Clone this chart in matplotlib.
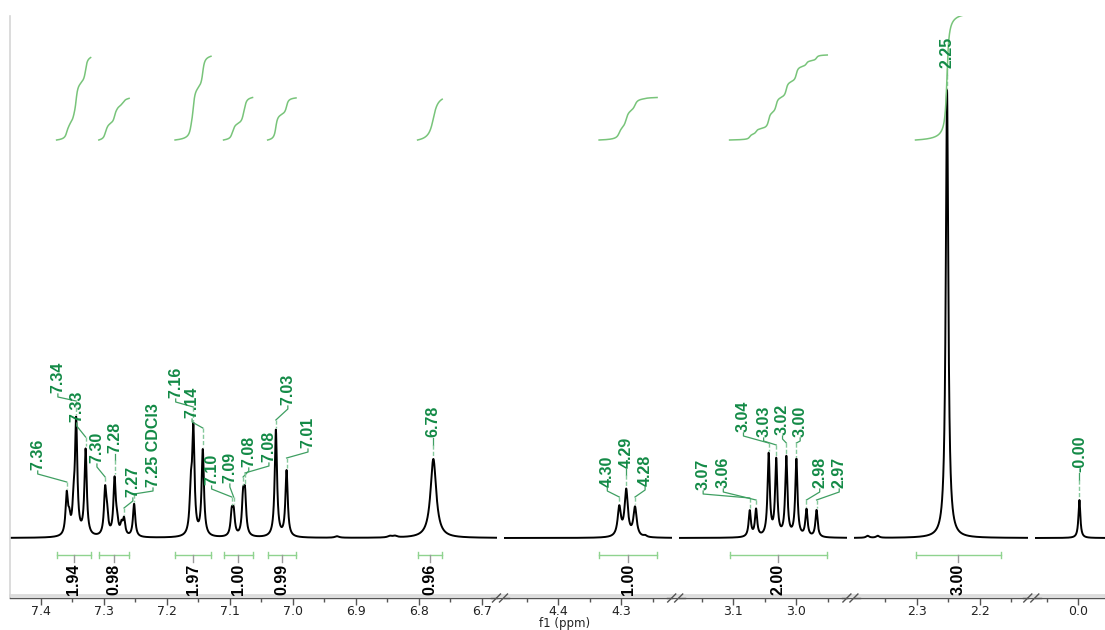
import numpy as np
import matplotlib.pyplot as plt
from matplotlib.lines import Line2D

# ---------------- spectrum data ----------------
# labelled resonances: shift (ppm), height, half width at half height (ppm)
peak_ppm = [7.359, 7.344, 7.329, 7.298, 7.283, 7.268, 7.252, 7.158, 7.143,
            7.097, 7.094, 7.079, 7.076, 7.027, 7.010, 6.777,
            4.303, 4.292, 4.278,
            3.074, 3.064, 3.044, 3.032, 3.016, 3.000, 2.984, 2.968,
            2.252, -0.002]
peak_height = [40, 112, 86, 44, 56, 16, 33, 104, 86,
               22, 22, 36, 38, 107, 66, 79,
               29, 46, 29,
               26, 27, 82, 76, 79, 77, 27, 27,
               448, 38]
peak_hw = [0.0022] * 15 + [0.0055] + [0.0031] * 3 + [0.0021] * 8 + [0.0024, 0.0018]
peak_note = {6: " CDCl3"}

# unlabelled shoulders and small impurity bumps
minor_ppm = [7.355, 7.348, 7.295, 7.279, 7.272, 7.162, 6.930, 6.846, 6.838,
             4.262, 2.378, 2.362]
minor_height = [14, 25, 18, 12, 10, 40, 1.5, 1.5, 1.5, 1.5, 2.0, 2.0]
minor_hw = [0.0022] * 6 + [0.004] * 3 + [0.003, 0.003, 0.003]

# integration regions (ppm) and their values
int_from = [7.375, 7.308, 7.187, 7.110, 7.040, 6.802, 4.335, 3.106, 2.302]
int_to = [7.321, 7.260, 7.130, 7.064, 6.995, 6.763, 4.243, 2.951, 2.167]
int_value = [1.94, 0.98, 1.97, 1.00, 0.99, 0.96, 1.00, 2.00, 3.00]

# displayed windows of the broken f1 axis (ppm, left -> right)
segments = [(7.449, 6.676), (4.486, 4.219), (3.186, 2.919), (2.399, 2.123), (0.068, -0.043)]
major_ticks = [[7.4, 7.3, 7.2, 7.1, 7.0, 6.9, 6.8, 6.7], [4.4, 4.3], [3.1, 3.0], [2.3, 2.2], [0.0]]

# ---------------- label layout ----------------
# label anchor (ppm), text base height and elbow height (intensity units)
label_x = [7.405, 7.373, 7.343, 7.311, 7.283, 7.254, 7.222, 7.186, 7.160,
           7.129, 7.100, 7.070, 7.038, 7.008, 6.976, 6.777,
           4.322, 4.292, 4.262,
           3.148, 3.116, 3.084, 3.052, 3.022, 2.994, 2.963, 2.932,
           2.252, -0.002]
label_base = [68, 145, 116, 75, 85, 41, 51, 140, 120,
              53, 55, 71, 76, 133, 90, 101,
              51, 70, 52,
              48, 50, 106, 101, 103, 101, 50, 50,
              470, 66]
label_elbow = [56, 137, 101, 61, 78, 30, 44, 131, 110,
               41, 41, 61, 65, 118, 80, 93,
               41, 63, 41,
               40, 38, 95, 93, 95, 95, 38, 38,
               463, 58]

# ---------------- geometry ----------------
W, H = 1105, 630
PX_PER_PPM = 630.0
x0, gap = 10, 7
y_top, y_axis, y_base = 16, 598, 538
INT_BASE = 398.0        # intensity level where integral curves start
INT_UNIT = 42.5         # curve rise per unit of integral

GREEN_TXT = "#138a46"
GREEN_LEAD = "#3f9f62"
GREEN_DASH = "#86c99c"
GREEN_INT = "#78c47a"
GREEN_BRK = "#8fd38f"
LABEL_FONT = ["Liberation Sans", "DejaVu Sans"]


def spectrum(x):
    y = np.zeros_like(x)
    for c, h, w in zip(peak_ppm + minor_ppm, peak_height + minor_height, peak_hw + minor_hw):
        y += h * w ** 2 / ((x - c) ** 2 + w ** 2)
    return y


fig = plt.figure(figsize=(W / 100, H / 100), dpi=100)
ylim = (-(y_axis - y_base), y_base - y_top)

axes = []
left = x0
for k, (a, b) in enumerate(segments):
    width = (a - b) * PX_PER_PPM
    ax = fig.add_axes([left / W, (H - y_axis) / H, width / W, (y_axis - y_top) / H])
    left += width + gap
    ax.set_xlim(a, b)
    ax.set_ylim(*ylim)
    ax.patch.set_alpha(0)
    for s in ("top", "right", "left"):
        ax.spines[s].set_visible(False)
    ax.spines["bottom"].set_color("#555555")
    ax.spines["bottom"].set_linewidth(1.0)
    if k == 0:
        ax.spines["left"].set_visible(True)
        ax.spines["left"].set_color("#d6d6d6")
        ax.spines["left"].set_linewidth(1.2)
    ax.set_yticks([])
    ax.set_xticks(major_ticks[k])
    ax.set_xticklabels([f"{t:.1f}" for t in major_ticks[k]])
    lo, hi = min(a, b), max(a, b)
    minors = [round(m, 2) for m in np.arange(np.floor(lo * 20) / 20, hi, 0.05)
              if lo < m < hi and all(abs(m - t) > 1e-6 for t in major_ticks[k])]
    ax.set_xticks(minors, minor=True)
    ax.tick_params(axis="x", which="major", length=5, width=1, color="#555555",
                   labelsize=9, labelcolor="#222222", pad=0)
    ax.tick_params(axis="x", which="minor", length=3, width=1, color="#555555")

    xs = np.linspace(a, b, 5000)
    ax.plot(xs, spectrum(xs), color="black", lw=1.4, solid_joinstyle="round")
    axes.append(ax)


def axis_for(ppm):
    for ax, (a, b) in zip(axes, segments):
        if b <= ppm <= a:
            return ax
    return axes[-1]


# peak labels with leader lines
for i, pk in enumerate(peak_ppm):
    ax = axis_for(pk)
    top = spectrum(np.array([pk]))[0]
    lx, tb, el = label_x[i], label_base[i], label_elbow[i]
    ax.plot([lx, lx, pk], [tb - 1, tb - 4, el], color=GREEN_LEAD, lw=0.9, clip_on=False)
    ax.plot([pk, pk], [el, top + 2], color=GREEN_DASH, lw=1.0, ls=(0, (3, 1.5)), clip_on=False)
    txt = f"{pk:.2f}" + peak_note.get(i, "")
    ax.text(lx, tb, txt, rotation=90, ha="center", va="bottom", color=GREEN_TXT,
            fontsize=11.5, fontweight="bold", family=LABEL_FONT)

# integral curves, brackets and values
for lo_p, hi_p, val in zip(int_from, int_to, int_value):
    ax = axis_for(lo_p)
    xs = np.linspace(lo_p, hi_p, 800)
    cum = np.cumsum(spectrum(xs))
    cum = cum / cum[-1]
    ax.plot(xs, INT_BASE + val * INT_UNIT * cum, color=GREEN_INT, lw=1.1)

    yb = -(555 - y_base)
    mid = 0.5 * (lo_p + hi_p)
    ax.plot([lo_p, hi_p], [yb, yb], color=GREEN_BRK, lw=1.0, clip_on=False)
    for e in (lo_p, hi_p):
        ax.plot([e, e], [yb - 3, yb + 3], color=GREEN_BRK, lw=1.0, clip_on=False)
    ax.plot([mid, mid], [yb, yb - 7], color="#9a9a9a", lw=1.0, clip_on=False)
    ax.text(mid, -(595 - y_base), f"{val:.2f}", rotation=90, ha="center", va="bottom",
            color="black", fontsize=11.5, fontweight="bold",
            family=LABEL_FONT, clip_on=False, zorder=5)

# light frame line above the axis (drawn beneath the axes content)
fig.add_artist(Line2D([x0 / W, 1.0], [(H - 595) / H] * 2, color="#dcdcdc", lw=2.0, zorder=-1))

# break marks on the axis
bx = x0
for a, b in segments[:-1]:
    bx += (a - b) * PX_PER_PPM
    c = bx + gap / 2
    for off in (-4, 3):
        fig.add_artist(Line2D([(c + off - 4) / W, (c + off + 4) / W],
                              [(H - 602) / H, (H - 594) / H], color="#555555", lw=1.0))
    fig.add_artist(Line2D([(c - 9) / W, (c + 9) / W], [(H - y_axis) / H] * 2,
                          color="#555555", lw=1.0))
    bx += gap

fig.text(565 / W, 1 - 624 / H, "f1 (ppm)", ha="center", va="center", fontsize=8.5, color="#222222")

fig.savefig("out.png", dpi=100)
